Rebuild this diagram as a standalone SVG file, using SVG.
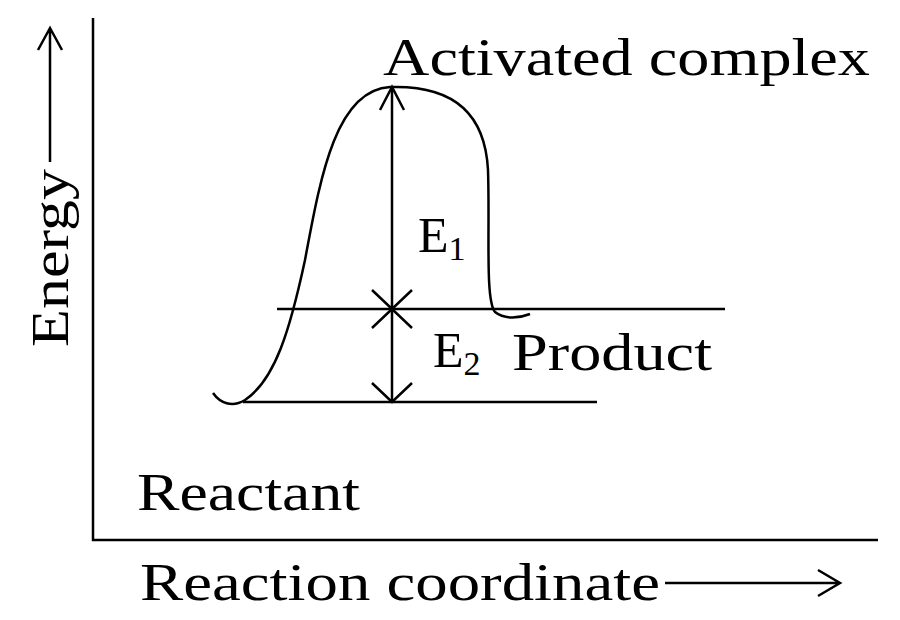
<svg xmlns="http://www.w3.org/2000/svg" width="900" height="620" viewBox="0 0 900 620">
<style>
.t{font-family:"Liberation Serif",serif;fill:#000}
.l{stroke:#000;stroke-width:2.5;fill:none}
</style>
<rect width="900" height="620" fill="#fff"/>
<g id="axes">
<path class="l" d="M93 18V540H878"/>
</g>
<g id="connectors">
<path class="l" d="M277 309H725M243 402H597M392 87V402"/>
<path class="l" d="M380 110L392 87L404 110M372 290L392 309L412 290M372 328L392 309L412 328M372 383L392 402L412 383"/>
<path class="l" d="M50 162V28M38 50L50 28L62 50"/>
<path class="l" d="M665 583H840M818 570L840 583L818 596"/>
<path class="l" d="M213 393C220 403 232 408 245 400C275 380 290 330 305 260C320 180 335 90 390 87C450 85 485 110 488 170C490 230 485 300 495 312C505 320 520 318 530 314"/>
</g>
<g id="labels">
<text class="t" font-size="52" textLength="178" lengthAdjust="spacingAndGlyphs" transform="translate(68 347) rotate(-90)">Energy</text>
<text class="t" x="140" y="600" font-size="52" textLength="520" lengthAdjust="spacingAndGlyphs">Reaction coordinate</text>
<text class="t" x="383" y="75" font-size="52" textLength="487" lengthAdjust="spacingAndGlyphs">Activated complex</text>
<text class="t" x="418" y="252" font-size="50">E<tspan font-size="34" dy="8">1</tspan></text>
<text class="t" x="433" y="367" font-size="50">E<tspan font-size="34" dy="8">2</tspan></text>
<text class="t" x="512" y="370" font-size="52" textLength="200" lengthAdjust="spacingAndGlyphs">Product</text>
<text class="t" x="137" y="510" font-size="52" textLength="223" lengthAdjust="spacingAndGlyphs">Reactant</text>
</g>
</svg>
